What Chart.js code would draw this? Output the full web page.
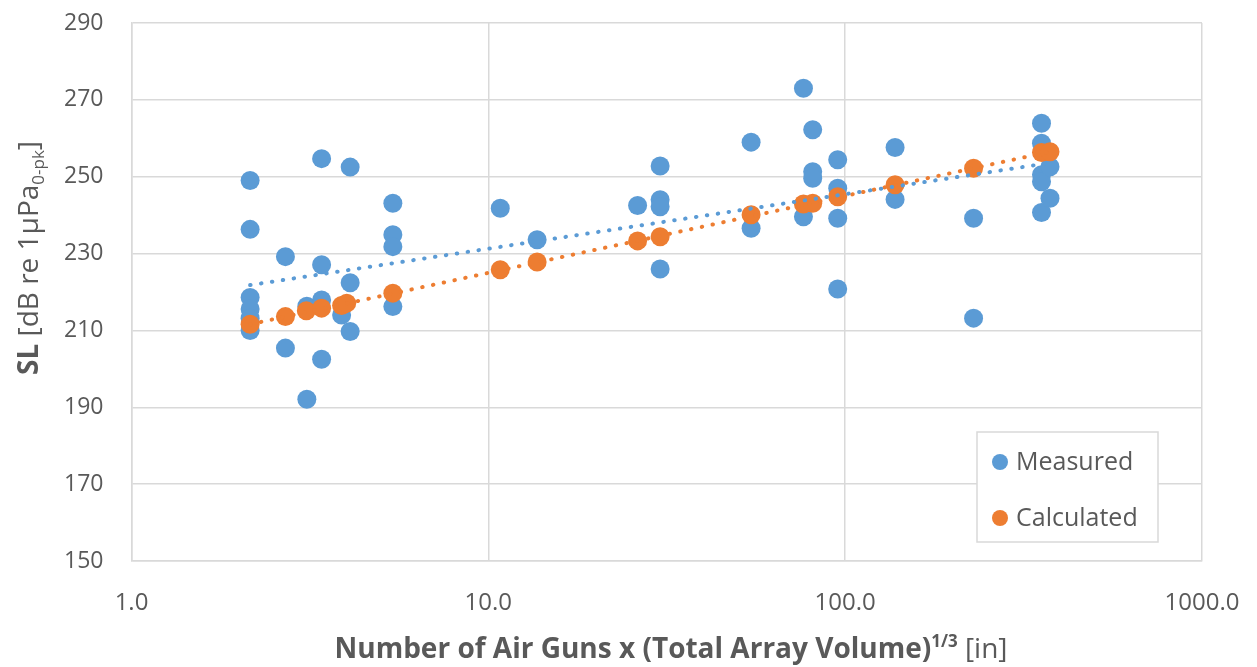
<!DOCTYPE html>
<html>
<head>
<meta charset="utf-8">
<script src="https://cdn.jsdelivr.net/npm/chart.js@4.4.1/dist/chart.umd.min.js"></script>
<style>
  html, body { margin: 0; padding: 0; background: #fff; }
  #wrap { width: 1257px; height: 667px; position: relative; }
</style>
</head>
<body>
<div id="wrap"><canvas id="c"></canvas></div>
<script>
// measured source levels (x = guns x volume^(1/3), y = SL dB)
const measuredX = [2.15, 2.15, 2.15, 2.15, 2.15, 2.15, 2.70, 2.70, 3.10, 3.10,
  3.41, 3.41, 3.41, 3.41, 3.88, 4.10, 4.10, 4.10, 5.40, 5.40, 5.40, 5.40,
  10.8, 13.7, 26.2, 30.3, 30.3, 30.3, 30.3, 54.5, 54.5, 76.4, 76.4,
  81.1, 81.1, 81.1, 95.3, 95.3, 95.3, 95.3, 138, 138, 229, 229,
  355, 355, 355, 355, 355, 375, 375];
const measuredY = [249.0, 236.3, 218.6, 215.6, 213.2, 210.0, 229.2, 205.4, 192.1, 216.3,
  254.7, 227.1, 217.9, 202.5, 214.0, 252.5, 222.4, 209.7, 243.1, 234.9, 231.8, 216.2,
  241.8, 233.6, 242.5, 252.8, 244.0, 242.2, 226.0, 259.0, 236.6, 273.0, 239.6,
  262.2, 251.3, 249.6, 254.4, 247.0, 239.2, 220.8, 257.6, 244.1, 239.2, 213.2,
  263.9, 258.7, 250.5, 248.7, 240.7, 252.6, 244.4];

// calculated source levels
const calcX = [2.15, 2.70, 3.09, 3.41, 3.88, 4.01, 5.40, 10.8, 13.7, 26.2, 30.3,
  54.5, 76.4, 81.1, 95.3, 138, 229, 355, 375];
const calcY = [211.6, 213.6, 215.1, 215.8, 216.5, 217.1, 219.7, 225.8, 227.8, 233.3, 234.4,
  240.1, 242.9, 243.1, 244.8, 247.9, 252.2, 256.3, 256.5];

// log trendline end points
const measuredTrendX = [2.15, 375];
const measuredTrendY = [221.8, 253.6];
const calcTrendX = [2.15, 375];
const calcTrendY = [211.6, 256.5];

const xTicks = [1, 10, 100, 1000];
const yMin = 150, yMax = 290, yStep = 20;

const BLUE = '#5B9BD5';
const ORANGE = '#ED7D31';
const TEXT = '#595959';
const GRID = '#D9D9D9';
const FONT = "'Open Sans', 'Noto Sans', sans-serif";

const pts = (xs, ys) => xs.map((x, i) => ({ x: x, y: ys[i] }));

// titles with sub/superscripts and a boxed legend, drawn by hand
const decorPlugin = {
  id: 'decor',
  afterDraw(chart) {
    const ctx = chart.ctx;
    ctx.save();
    ctx.fillStyle = TEXT;
    ctx.textBaseline = 'alphabetic';

    // x axis title
    const xParts = [
      { t: 'Number of Air Guns x (Total Array Volume)', f: 'bold 28px ' + FONT, dy: 0 },
      { t: '1/3', f: 'bold 17px ' + FONT, dy: -11 },
      { t: ' [in]', f: '28px ' + FONT, dy: 0 }
    ];
    let w = 0;
    xParts.forEach(p => { ctx.font = p.f; p.w = ctx.measureText(p.t).width; w += p.w; });
    let x = 671 - w / 2;
    const xb = 658;
    xParts.forEach(p => { ctx.font = p.f; ctx.fillText(p.t, x, xb + p.dy); x += p.w; });

    // y axis title, rotated
    const yParts = [
      { t: 'SL', f: 'bold 28px ' + FONT, dy: 0 },
      { t: ' [dB re 1μPa', f: '28px ' + FONT, dy: 0 },
      { t: '0-pk', f: '17px ' + FONT, dy: 6 },
      { t: ']', f: '28px ' + FONT, dy: 0 }
    ];
    w = 0;
    yParts.forEach(p => { ctx.font = p.f; p.w = ctx.measureText(p.t).width; w += p.w; });
    ctx.translate(38, 258);
    ctx.rotate(-Math.PI / 2);
    x = -w / 2;
    yParts.forEach(p => { ctx.font = p.f; ctx.fillText(p.t, x, p.dy); x += p.w; });
    ctx.setTransform(1, 0, 0, 1, 0, 0);

    // legend box inside the plot
    const lx = 977, ly = 432, lw = 181, lh = 110;
    ctx.fillStyle = '#fff';
    ctx.fillRect(lx, ly, lw, lh);
    ctx.strokeStyle = GRID;
    ctx.lineWidth = 1.5;
    ctx.strokeRect(lx, ly, lw, lh);
    const items = chart.data.datasets.filter(d => d.inLegend);
    ctx.font = '25px ' + FONT;
    ctx.textBaseline = 'middle';
    items.forEach((d, i) => {
      const cy = 462 + i * 56;
      ctx.beginPath();
      ctx.arc(lx + 23, cy, 8, 0, Math.PI * 2);
      ctx.fillStyle = d.backgroundColor;
      ctx.fill();
      ctx.fillStyle = TEXT;
      ctx.fillText(d.label, lx + 39, cy + 1);
    });
    ctx.restore();
  }
};

new Chart(document.getElementById('c').getContext('2d'), {
  type: 'scatter',
  data: {
    datasets: [
      {
        label: 'Measured trend',
        type: 'line',
        data: pts(measuredTrendX, measuredTrendY),
        borderColor: BLUE,
        borderWidth: 4,
        borderDash: [0.5, 10.5],
        borderCapStyle: 'round',
        pointRadius: 0,
        fill: false,
        order: 0
      },
      {
        label: 'Calculated trend',
        type: 'line',
        data: pts(calcTrendX, calcTrendY),
        borderColor: ORANGE,
        borderWidth: 4,
        borderDash: [0.5, 10.5],
        borderCapStyle: 'round',
        pointRadius: 0,
        fill: false,
        order: 0
      },
      {
        label: 'Measured',
        inLegend: true,
        data: pts(measuredX, measuredY),
        backgroundColor: BLUE,
        borderWidth: 0,
        pointRadius: 9.5,
        order: 2
      },
      {
        label: 'Calculated',
        inLegend: true,
        data: pts(calcX, calcY),
        backgroundColor: ORANGE,
        borderWidth: 0,
        pointRadius: 9.5,
        order: 1
      }
    ]
  },
  options: {
    responsive: true,
    maintainAspectRatio: false,
    animation: false,
    layout: { padding: { top: 23, right: 55, left: 0, bottom: 0 } },
    plugins: {
      legend: { display: false },
      tooltip: { enabled: false }
    },
    scales: {
      x: {
        type: 'logarithmic',
        min: 1,
        max: 1000,
        afterBuildTicks: (scale) => { scale.ticks = xTicks.map(v => ({ value: v })); },
        afterFit: (scale) => {
          scale.height = 106;
          scale.paddingLeft = 0;
          scale.paddingRight = 0;
        },
        ticks: {
          color: TEXT,
          font: { family: FONT, size: 24 },
          padding: 28,
          maxRotation: 0,
          autoSkip: false,
          callback: (v) => Number(v).toFixed(1)
        },
        grid: { color: GRID, lineWidth: 1.5, drawTicks: false },
        border: { color: GRID, width: 1.5 }
      },
      y: {
        min: yMin,
        max: yMax,
        afterFit: (scale) => {
          scale.width = 131.5;
          scale.paddingTop = 0;
          scale.paddingBottom = 0;
        },
        ticks: {
          stepSize: yStep,
          color: TEXT,
          font: { family: FONT, size: 23 },
          padding: 28
        },
        grid: { color: GRID, lineWidth: 1.5, drawTicks: false },
        border: { color: GRID, width: 1.5 }
      }
    }
  },
  plugins: [decorPlugin]
});
</script>
</body>
</html>
